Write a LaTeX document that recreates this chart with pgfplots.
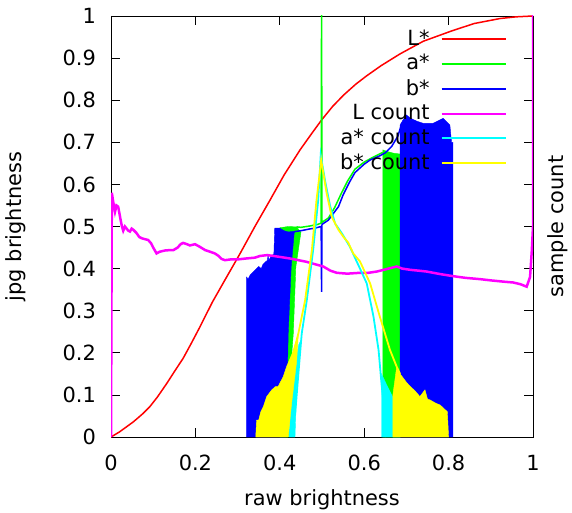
\documentclass[border=0pt]{standalone}
\usepackage{pgfplots}
\pgfplotsset{compat=1.18}
\usepackage{fontspec}
\setmainfont{DejaVu Sans}
\definecolor{cL}{RGB}{255,0,0}
\definecolor{ca}{RGB}{0,255,0}
\definecolor{cb}{RGB}{0,0,255}
\definecolor{cLc}{RGB}{255,0,255}
\definecolor{cac}{RGB}{0,255,255}
\definecolor{cbc}{RGB}{255,255,0}
\begin{document}
\fontsize{21}{25}\selectfont
\begin{tikzpicture}
\begin{axis}[name=ax,scale only axis,width=422bp,height=421bp,
  xmin=0,xmax=1,ymin=0,ymax=1,
  xtick={0,0.2,0.4,0.6,0.8,1},ytick={0,0.1,0.2,0.3,0.4,0.5,0.6,0.7,0.8,0.9,1},
  tick align=inside,major tick length=9bp,xtick pos=both,ytick pos=both,
  xticklabel pos=lower,yticklabel pos=left,
  /pgf/number format/assume math mode=true,
  tick style={black,line width=0.8bp},
  axis line style={line width=0.9bp},
  xticklabel style={yshift=-11bp},
  yticklabel style={xshift=-8bp},
  xlabel={raw brightness},
  xlabel style={at={(rel axis cs:0.5,0)},anchor=center,yshift=-63bp},
  legend cell align=right,legend plot pos=right,
  legend image code/.code={\draw[#1,line width=2bp] (0bp,0bp) -- (64bp,0bp);},
  legend style={at={(rel axis cs:0.945,0.973)},anchor=north east,draw=none,fill=none,
    row sep=6.2bp,nodes={inner xsep=11bp,inner ysep=0bp}},
]
% L*
\addplot[cL,line width=1.5bp] coordinates {(0,0) (0.02,0.012) (0.053,0.036) (0.075,0.055) (0.092,0.072) (0.11,0.095) (0.132,0.127) (0.15,0.155) (0.171,0.187) (0.19,0.222) (0.211,0.262) (0.24,0.32) (0.27,0.373) (0.306,0.436) (0.341,0.5) (0.377,0.563) (0.41,0.622) (0.448,0.682) (0.475,0.72) (0.499,0.753) (0.525,0.785) (0.551,0.812) (0.58,0.838) (0.606,0.858) (0.64,0.882) (0.685,0.91) (0.74,0.94) (0.803,0.963) (0.86,0.982) (0.922,0.994) (0.96,0.998) (1,1)};
\addlegendentry{L*}
% a* noisy parts
\addplot[ca,fill=ca,forget plot] coordinates {(0.40,0) (0.40,0.497) (0.42,0.5) (0.44,0.499) (0.45,0.486) (0.438,0.404) (0.432,0.246) (0.425,0.15) (0.42,0)} \closedcycle;
\addplot[ca,fill=ca,forget plot] coordinates {(0.644,0) (0.644,0.682) (0.655,0.678) (0.67,0.674) (0.686,0.672) (0.686,0)} \closedcycle;
\addplot[ca,line width=1.5bp] coordinates {(0.44,0.499) (0.45,0.498) (0.47,0.501) (0.49,0.505) (0.498,0.508) (0.499,1.05) (0.5,0.51) (0.515,0.52) (0.53,0.545) (0.545,0.577) (0.56,0.607) (0.578,0.636) (0.6,0.653) (0.62,0.664) (0.644,0.676)};
\addlegendentry{a*}
% b* noisy parts
\addplot[cb,fill=cb,forget plot] coordinates {(0.321,0) (0.321,0.38) (0.325,0.375) (0.33,0.385) (0.335,0.39) (0.34,0.395) (0.345,0.4) (0.35,0.405) (0.356,0.4) (0.36,0.41) (0.365,0.415) (0.371,0.42) (0.372,0.435) (0.374,0.42) (0.38,0.43) (0.386,0.435) (0.388,0.496) (0.40,0.496) (0.41,0.49) (0.42,0.487) (0.436,0.489) (0.434,0.484) (0.427,0.404) (0.42,0.246) (0.418,0.15) (0.414,0)} \closedcycle;
\addplot[cb,fill=cb,forget plot] coordinates {(0.685,0) (0.685,0.741) (0.692,0.753) (0.70,0.765) (0.71,0.757) (0.725,0.75) (0.74,0.745) (0.763,0.745) (0.787,0.757) (0.803,0.741) (0.807,0.70) (0.81,0.70) (0.81,0)} \closedcycle;
\addplot[cb,line width=1.5bp] coordinates {(0.436,0.488) (0.45,0.49) (0.47,0.494) (0.483,0.496) (0.498,0.5) (0.499,0.345) (0.5,0.505) (0.515,0.515) (0.527,0.531) (0.539,0.547) (0.55,0.575) (0.565,0.605) (0.578,0.628) (0.6,0.648) (0.614,0.658) (0.637,0.668) (0.65,0.675) (0.665,0.69) (0.68,0.715) (0.686,0.735)};
\addlegendentry{b*}
% L count
\addplot[cLc,line width=2.5bp] coordinates {(0,0) (0.002,0.58) (0.005,0.56) (0.0095,0.535) (0.013,0.55) (0.017,0.547) (0.022,0.52) (0.026,0.5) (0.029,0.49) (0.033,0.5) (0.037,0.495) (0.041,0.49) (0.045,0.488) (0.049,0.495) (0.053,0.492) (0.06,0.485) (0.067,0.475) (0.073,0.472) (0.08,0.47) (0.088,0.468) (0.095,0.46) (0.1,0.45) (0.108,0.436) (0.115,0.44) (0.128,0.443) (0.14,0.444) (0.148,0.444) (0.158,0.45) (0.165,0.458) (0.171,0.461) (0.18,0.458) (0.187,0.455) (0.199,0.458) (0.21,0.452) (0.223,0.444) (0.235,0.44) (0.246,0.436) (0.255,0.43) (0.262,0.423) (0.27,0.42) (0.285,0.422) (0.302,0.422) (0.32,0.424) (0.341,0.426) (0.353,0.43) (0.37,0.432) (0.385,0.43) (0.405,0.427) (0.424,0.424) (0.444,0.42) (0.464,0.416) (0.485,0.41) (0.503,0.405) (0.52,0.395) (0.535,0.39) (0.56,0.388) (0.59,0.39) (0.61,0.39) (0.63,0.393) (0.65,0.398) (0.665,0.402) (0.677,0.405) (0.69,0.4) (0.71,0.397) (0.73,0.395) (0.748,0.393) (0.78,0.387) (0.811,0.382) (0.84,0.378) (0.874,0.375) (0.9,0.372) (0.93,0.369) (0.953,0.367) (0.97,0.363) (0.985,0.357) (0.993,0.38) (0.997,0.44) (1,0.5) (1,1.05)};
\addlegendentry{L count}
% a* count
\addplot[cac,fill=cac,forget plot] coordinates {(0.421,0) (0.428,0.1) (0.432,0.151) (0.445,0.22) (0.45,0.23) (0.44,0.12) (0.436,0)} \closedcycle;
\addplot[cac,fill=cac,forget plot] coordinates {(0.641,0) (0.641,0.15) (0.655,0.12) (0.67,0.09) (0.685,0.06) (0.685,0)} \closedcycle;
\addplot[cac,line width=1.8bp] coordinates {(0.436,0.05) (0.444,0.15) (0.452,0.246) (0.464,0.325) (0.479,0.444) (0.491,0.563) (0.497,0.67) (0.502,0.64) (0.507,0.61) (0.519,0.55) (0.531,0.507) (0.547,0.484) (0.566,0.452) (0.59,0.4) (0.606,0.365) (0.622,0.286) (0.634,0.207) (0.641,0.127) (0.649,0.048) (0.651,0)};
\addlegendentry{a* count}
% b* count
\addplot[cbc,fill=cbc,forget plot] coordinates {(0.343,0) (0.345,0.04) (0.35,0.04) (0.355,0.06) (0.361,0.072) (0.369,0.096) (0.381,0.112) (0.39,0.12) (0.396,0.12) (0.408,0.143) (0.416,0.167) (0.43,0.2) (0.444,0.246) (0.44,0.18) (0.428,0.08) (0.42,0)} \closedcycle;
\addplot[cbc,fill=cbc,forget plot] coordinates {(0.668,0) (0.668,0.1) (0.677,0.167) (0.685,0.15) (0.70,0.13) (0.709,0.12) (0.72,0.11) (0.732,0.096) (0.744,0.112) (0.75,0.09) (0.756,0.088) (0.77,0.08) (0.78,0.076) (0.797,0.06) (0.80,0)} \closedcycle;
\addplot[cbc,line width=1.8bp] coordinates {(0.42,0.151) (0.444,0.246) (0.46,0.325) (0.476,0.444) (0.487,0.563) (0.495,0.63) (0.498,0.658) (0.511,0.579) (0.523,0.523) (0.539,0.492) (0.551,0.475) (0.562,0.462) (0.574,0.436) (0.59,0.417) (0.614,0.365) (0.637,0.286) (0.661,0.207) (0.677,0.167) (0.685,0.15)};
\addlegendentry{b* count}
\end{axis}
\node[rotate=90] at ([xshift=-95bp]ax.west) {jpg brightness};
\node[rotate=90] at ([xshift=25bp]ax.east) {sample count};
\pgfresetboundingbox
\path[use as bounding box] ([shift={(-111bp,-76bp)}]ax.south west) rectangle ([shift={(39bp,16bp)}]ax.north east);
\end{tikzpicture}
\end{document}
